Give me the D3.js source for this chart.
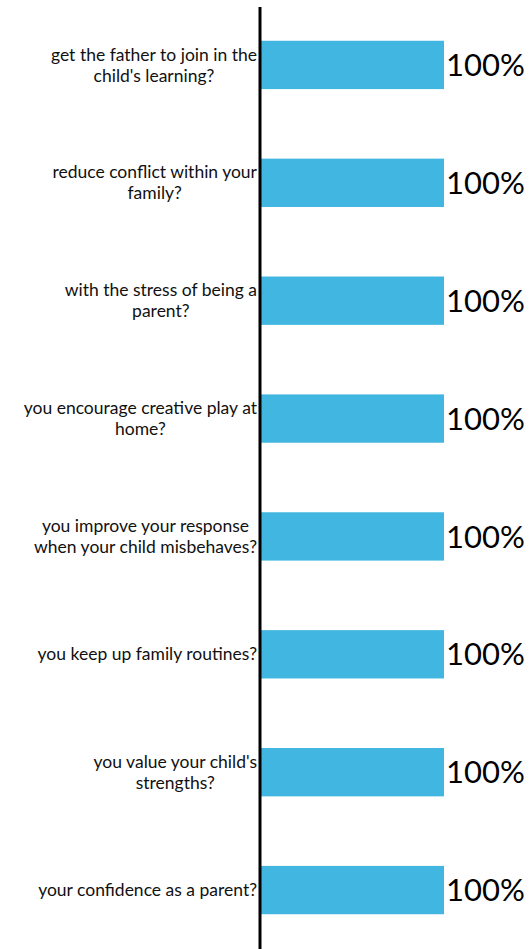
<!DOCTYPE html>
<html>
<head>
<meta charset="utf-8">
<script src="https://cdn.jsdelivr.net/npm/d3@7"></script>
<style>
  body { margin: 0; background: #fff; }
</style>
</head>
<body>
<div id="chart"></div>
<script>
(function() {

  'use strict'

  // each question as it is wrapped on the chart
  var questions = [
    ['get the father to join in the', 'child\'s learning?'],
    ['reduce conflict within your', 'family?'],
    ['with the stress of being a', 'parent?'],
    ['you encourage creative play at', 'home?'],
    ['you improve your response', 'when your child misbehaves?'],
    ['you keep up family routines?'],
    ['you value your child\'s', 'strengths?'],
    ['your confidence as a parent?']
  ];
  var values = [100, 100, 100, 100, 100, 100, 100, 100];

  var width = 529,
      height = 949,
      axisX = 260,
      barEnd = 444,
      labelRight = 257;

  var fontFamily = 'Lato, sans-serif';

  var svg = d3.select('#chart').append('svg')
    .attr('width', width)
    .attr('height', height);

  var y = d3.scaleBand()
    .domain(d3.range(questions.length))
    .range([6, 949])
    .paddingInner(0.59)
    .paddingOuter(0.295);

  var x = d3.scaleLinear()
    .domain([0, 100])
    .range([axisX, barEnd]);

  var rows = svg.selectAll('g.row')
    .data(values)
    .enter().append('g')
    .attr('class', 'row');

  rows.append('rect')
    .attr('x', x(0))
    .attr('y', function(d, i) { return y(i); })
    .attr('width', function(d) { return x(d) - x(0); })
    .attr('height', y.bandwidth())
    .style('fill', '#41B6E0');

  rows.append('text')
    .attr('x', function(d) { return x(d) + 2; })
    .attr('y', function(d, i) { return y(i) + y.bandwidth() / 2; })
    .attr('dy', '0.36em')
    .attr('font-size', '31px')
    .attr('font-family', fontFamily)
    .style('fill', '#000')
    .text(function(d) { return d + '%'; });

  var labels = rows.append('text')
    .attr('text-anchor', 'middle')
    .attr('font-size', '17.5px')
    .attr('font-family', fontFamily)
    .style('fill', '#111');

  labels.selectAll('tspan')
    .data(function(d, i) {
      var lines = questions[i];
      return lines.map(function(t, j) {
        return { text: t, cy: y(i) + y.bandwidth() / 2 + (j - (lines.length - 1) / 2) * 21 };
      });
    })
    .enter().append('tspan')
    .attr('y', function(d) { return d.cy; })
    .attr('dy', '0.35em')
    .text(function(d) { return d.text; });

  // lines are centred on each other, the block sits against the axis
  labels.each(function() {
    var spans = d3.select(this).selectAll('tspan');
    var widest = d3.max(spans.nodes(), function(n) { return n.getComputedTextLength(); });
    spans.attr('x', labelRight - widest / 2);
  });

  // vertical axis line
  svg.append('line')
    .attr('x1', axisX)
    .attr('x2', axisX)
    .attr('y1', 7)
    .attr('y2', height)
    .attr('stroke', '#000')
    .attr('stroke-width', 3);

})();
</script>
</body>
</html>
